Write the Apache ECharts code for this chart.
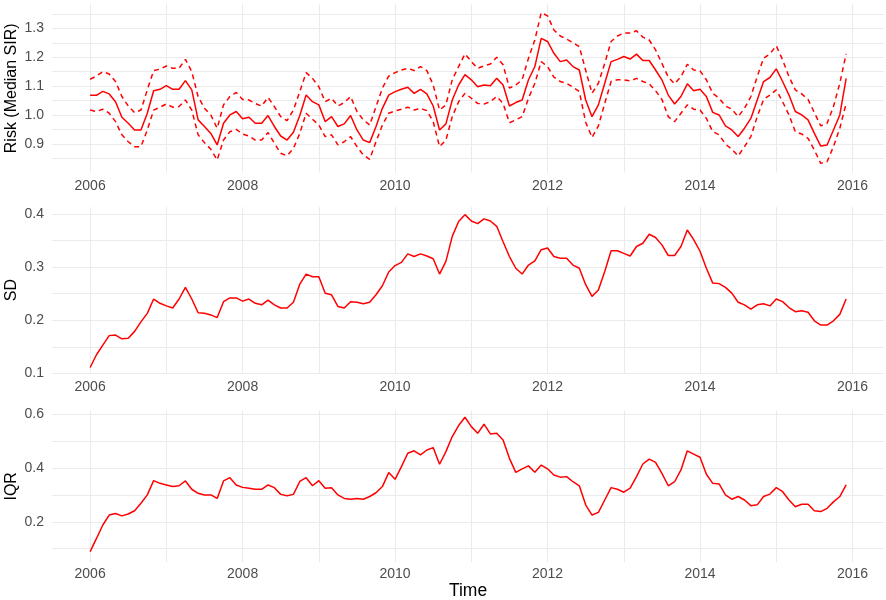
<!DOCTYPE html>
<html><head><meta charset="utf-8">
<script src="https://cdn.jsdelivr.net/npm/echarts@6/dist/echarts.min.js"></script>
<style>html,body{margin:0;padding:0;background:#fff}#c{width:886px;height:600px}</style>
</head><body><div id="c"></div>
<script>
// monthly time points, Jan 2006 .. Dec 2015
const startYear = 2006;
const nMonths = 120;
const months = [];
for (let i = 0; i < nMonths; i++) months.push(startYear + i / 12);

const xTickLabels = ['2006', '2008', '2010', '2012', '2014', '2016'];
const riskTickLabels = ['0.9', '1.0', '1.1', '1.2', '1.3'];
const sdTickLabels = ['0.1', '0.2', '0.3', '0.4'];
const iqrTickLabels = ['0.2', '0.4', '0.6'];

const riskMedian = [
  1.068,1.068,1.082,1.073,1.046,0.992,0.971,0.948,0.948,1.006,1.084,1.089,
  1.102,1.089,1.089,1.119,1.087,0.983,0.960,0.936,0.896,0.971,1.000,1.012,
  0.987,0.992,0.971,0.971,0.998,0.960,0.927,0.913,0.940,0.998,1.069,1.046,
  1.035,0.977,0.994,0.960,0.969,0.998,0.948,0.913,0.904,0.960,1.023,1.069,
  1.081,1.089,1.096,1.075,1.089,1.073,1.031,0.948,0.969,1.052,1.104,1.140,
  1.122,1.098,1.104,1.101,1.127,1.104,1.031,1.043,1.052,1.122,1.168,1.266,
  1.255,1.214,1.185,1.191,1.168,1.156,1.052,0.994,1.035,1.110,1.185,1.193,
  1.203,1.194,1.211,1.189,1.189,1.156,1.122,1.069,1.038,1.064,1.108,1.084,
  1.089,1.064,1.009,1.000,0.962,0.948,0.925,0.954,0.988,1.052,1.116,1.130,
  1.160,1.116,1.069,1.012,1.000,0.983,0.936,0.892,0.896,0.948,1.000,1.127
];
const riskUpper = [
  1.124,1.135,1.150,1.142,1.116,1.064,1.031,1.008,1.017,1.087,1.154,1.159,
  1.170,1.162,1.162,1.193,1.150,1.064,1.023,1.000,0.954,1.035,1.064,1.078,
  1.054,1.052,1.040,1.031,1.061,1.029,0.994,0.980,1.017,1.081,1.147,1.127,
  1.098,1.046,1.058,1.031,1.043,1.064,1.012,0.983,0.965,1.029,1.093,1.135,
  1.147,1.156,1.162,1.154,1.168,1.154,1.104,1.017,1.035,1.122,1.168,1.212,
  1.185,1.162,1.170,1.177,1.200,1.174,1.093,1.104,1.122,1.197,1.260,1.355,
  1.344,1.295,1.274,1.263,1.251,1.237,1.155,1.075,1.110,1.179,1.255,1.274,
  1.284,1.284,1.292,1.270,1.260,1.226,1.179,1.131,1.108,1.133,1.176,1.156,
  1.153,1.122,1.075,1.058,1.031,1.020,0.994,1.023,1.064,1.133,1.197,1.212,
  1.240,1.191,1.133,1.087,1.073,1.054,1.008,0.962,0.971,1.029,1.110,1.212
];
const riskLower = [
  1.017,1.012,1.020,1.006,0.977,0.931,0.907,0.890,0.890,0.948,1.017,1.027,
  1.038,1.027,1.029,1.052,1.017,0.931,0.904,0.881,0.844,0.913,0.942,0.950,
  0.934,0.927,0.913,0.913,0.939,0.902,0.867,0.858,0.884,0.936,1.006,0.985,
  0.965,0.925,0.931,0.896,0.907,0.925,0.890,0.861,0.846,0.907,0.965,1.006,
  1.014,1.020,1.027,1.017,1.023,1.015,0.977,0.890,0.913,0.994,1.046,1.075,
  1.058,1.040,1.038,1.046,1.064,1.040,0.973,0.983,0.994,1.058,1.110,1.185,
  1.168,1.131,1.116,1.110,1.096,1.081,0.975,0.922,0.962,1.040,1.116,1.122,
  1.122,1.118,1.127,1.116,1.108,1.084,1.054,0.994,0.977,1.006,1.035,1.020,
  1.017,0.988,0.942,0.931,0.899,0.881,0.858,0.890,0.925,0.994,1.054,1.069,
  1.087,1.046,1.000,0.942,0.934,0.919,0.878,0.832,0.838,0.890,0.954,1.040
];
const sdValues = [
  0.111,0.135,0.153,0.171,0.172,0.165,0.166,0.179,0.197,0.213,0.240,0.232,
  0.227,0.223,0.240,0.262,0.240,0.214,0.213,0.210,0.205,0.235,0.242,0.242,
  0.236,0.240,0.232,0.229,0.238,0.229,0.223,0.223,0.234,0.268,0.287,0.282,
  0.282,0.251,0.248,0.226,0.223,0.235,0.234,0.231,0.234,0.248,0.265,0.291,
  0.303,0.309,0.325,0.320,0.325,0.321,0.316,0.287,0.311,0.358,0.386,0.399,
  0.387,0.382,0.391,0.387,0.377,0.348,0.320,0.298,0.287,0.304,0.312,0.333,
  0.336,0.320,0.317,0.317,0.304,0.298,0.267,0.245,0.257,0.292,0.331,0.331,
  0.326,0.321,0.339,0.345,0.362,0.356,0.342,0.322,0.322,0.339,0.370,0.352,
  0.330,0.298,0.270,0.269,0.262,0.251,0.234,0.229,0.221,0.229,0.231,0.227,
  0.240,0.235,0.224,0.216,0.218,0.215,0.199,0.191,0.191,0.199,0.211,0.240
];
const iqrValues = [
  0.089,0.138,0.188,0.225,0.231,0.222,0.229,0.241,0.269,0.300,0.353,0.343,
  0.337,0.331,0.334,0.352,0.321,0.306,0.300,0.300,0.287,0.352,0.364,0.337,
  0.328,0.325,0.321,0.321,0.337,0.327,0.302,0.297,0.302,0.350,0.364,0.334,
  0.353,0.325,0.327,0.300,0.287,0.284,0.287,0.284,0.294,0.308,0.331,0.383,
  0.358,0.405,0.455,0.464,0.449,0.467,0.476,0.414,0.461,0.517,0.558,0.589,
  0.554,0.529,0.563,0.527,0.529,0.504,0.436,0.384,0.397,0.408,0.384,0.411,
  0.397,0.374,0.366,0.368,0.349,0.334,0.263,0.225,0.235,0.281,0.327,0.321,
  0.310,0.325,0.368,0.415,0.433,0.421,0.380,0.334,0.349,0.393,0.464,0.452,
  0.440,0.377,0.343,0.341,0.300,0.284,0.294,0.281,0.260,0.263,0.294,0.303,
  0.327,0.312,0.281,0.256,0.265,0.265,0.241,0.238,0.250,0.274,0.294,0.337
];

const FONT = "'Liberation Sans', Arial, sans-serif";
const GRID_COLOR = '#ebebeb';
const RED = '#ff0000';
const NONE = 'rgba(0,0,0,0)';

function near(a, b) { return Math.abs(a - b) < 1e-6; }
// build split-line color list matching the ticks ECharts generates
function lineColors(min, max, interval, show) {
  const cols = [];
  let k = 0, v;
  while ((v = min + k * interval) <= max + 1e-9) { cols.push(show(v) ? GRID_COLOR : NONE); k++; }
  if (!near(min + (k - 1) * interval, max)) cols.push(NONE);
  return cols;
}
function labelFmt(labels, digits) {
  return function (v) {
    const s = v.toFixed(digits);
    return (labels.indexOf(s) >= 0 && near(v, parseFloat(s))) ? s : '';
  };
}

const X_MIN = 2005.5, X_MAX = 2016.413, X_INT = 0.5;
const xColors = lineColors(X_MIN, X_MAX, X_INT, v => near(v, Math.round(v)));

function xAxis(gridIndex, margin, extra) {
  return Object.assign({
    type: 'value', gridIndex: gridIndex, min: X_MIN, max: X_MAX, interval: X_INT,
    axisLine: { show: false }, axisTick: { show: false },
    axisLabel: { margin: margin, color: '#4d4d4d', fontSize: 14, fontFamily: FONT,
      formatter: labelFmt(xTickLabels, 0) },
    splitLine: { show: true, lineStyle: { color: xColors, width: 1 } }
  }, extra || {});
}
function yAxis(gridIndex, min, max, interval, labels, show, name) {
  return {
    type: 'value', gridIndex: gridIndex, min: min, max: max, interval: interval,
    name: name, nameLocation: 'middle', nameGap: 32.5, nameRotate: 90, nameMoveOverlap: false,
    nameTextStyle: { color: '#000', fontSize: 16, fontFamily: FONT },
    axisLine: { show: false }, axisTick: { show: false },
    axisLabel: { margin: 8, color: '#4d4d4d', fontSize: 14, fontFamily: FONT,
      formatter: labelFmt(labels, 1) },
    splitLine: { show: true, lineStyle: { color: lineColors(min, max, interval, show), width: 1 } }
  };
}
function pairs(vals) { return vals.map((v, i) => [months[i], v]); }
function line(xi, vals, dashed) {
  return {
    type: 'line', xAxisIndex: xi, yAxisIndex: xi, data: pairs(vals),
    showSymbol: false, symbol: 'none', silent: true, animation: false,
    lineStyle: { color: RED, width: 1.5, type: dashed ? [5, 4] : 'solid' }
  };
}

const gridBase = { left: 52, right: 2, containLabel: false, outerBoundsMode: 'none' };
const chart = echarts.init(document.getElementById('c'), null, { renderer: 'canvas' });
chart.setOption({
  backgroundColor: '#fff',
  animation: false,
  grid: [
    Object.assign({ top: 4, height: 168.6 }, gridBase),
    Object.assign({ top: 207, height: 166.3 }, gridBase),
    Object.assign({ top: 410.5, height: 151.6 }, gridBase)
  ],
  xAxis: [
    xAxis(0, 7),
    xAxis(1, 7),
    xAxis(2, 5, { name: 'Time', nameLocation: 'middle', nameGap: 20, nameMoveOverlap: false,
      nameTextStyle: { color: '#000', fontSize: 17.5, fontFamily: FONT, verticalAlign: 'top' } })
  ],
  yAxis: [
    yAxis(0, 0.8, 1.385, 0.05, riskTickLabels, v => v > 0.84 && v < 1.36, 'Risk (Median SIR)'),
    yAxis(1, 0.1, 0.4134, 0.05, sdTickLabels, v => true, 'SD'),
    yAxis(2, 0.05, 0.614, 0.05, iqrTickLabels, v => near(v * 10, Math.round(v * 10)), 'IQR')
  ],
  series: [
    line(0, riskUpper, true),
    line(0, riskLower, true),
    line(0, riskMedian, false),
    line(1, sdValues, false),
    line(2, iqrValues, false)
  ]
});
</script>
</body></html>
